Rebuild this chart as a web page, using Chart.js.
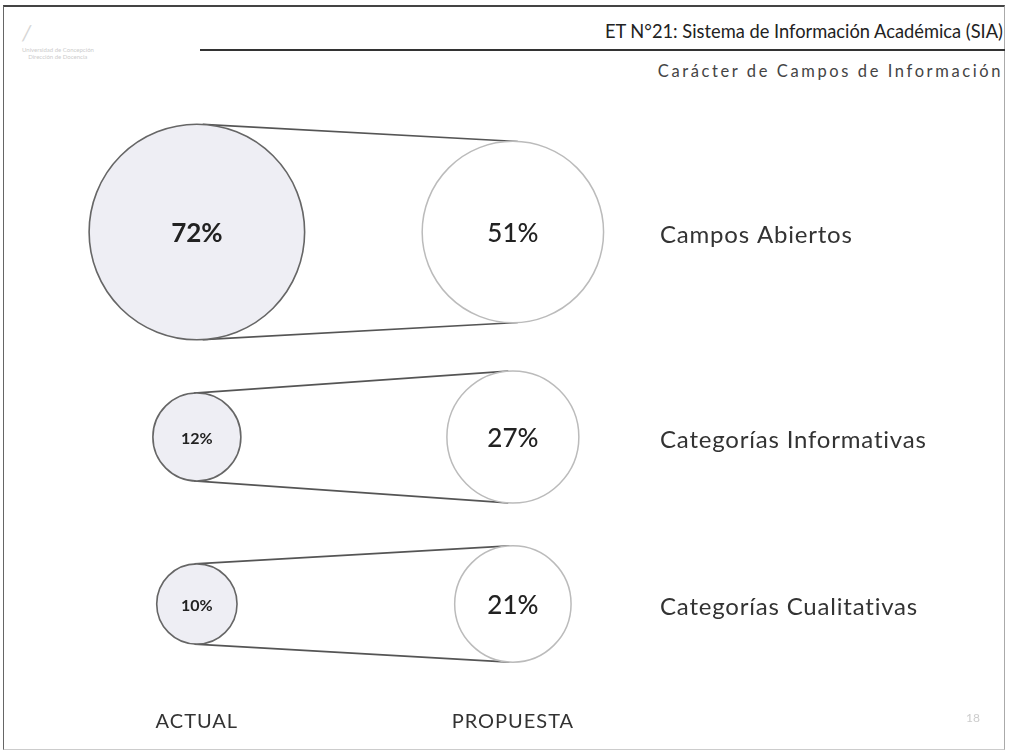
<!DOCTYPE html>
<html>
<head>
<meta charset="utf-8">
<script src="https://cdn.jsdelivr.net/npm/chart.js@4"></script>
<style>
body { margin: 0; background: #fff; font-family: Lato, "Open Sans", sans-serif; }
#page { position: relative; width: 1009px; height: 755px; overflow: hidden; }
#frame { position: absolute; left: 3px; top: 5px; width: 1000px; height: 742px;
  border: 1px solid #666; border-top: 2px solid #444; border-bottom-color: #ccc; border-right-color: #aaa; }
#title { position: absolute; right: 6px; top: 20px; font-size: 18.3px; color: #222; }
#rule { position: absolute; left: 200px; right: 4px; top: 49px; height: 2px; background: #333; }
#subtitle { position: absolute; right: 6px; top: 61px; font-size: 16.5px; color: #444; letter-spacing: 2.6px; }
#logo { position: absolute; left: 22px; top: 18px; color: #ccc; font-size: 6px; line-height: 7px; }
#pagenum { position: absolute; left: 966px; top: 710px; color: #ccc; font-size: 12px; }
canvas { position: absolute; left: 0; }
</style>
</head>
<body>
<div id="page">
  <div id="frame"></div>
  <div id="logo"><div style="font-size:22px;line-height:28px;color:#d6d6d6;font-style:italic">/</div>Universidad de Concepción<br>&nbsp;&nbsp;&nbsp;&nbsp;Dirección de Docencia</div>
  <div id="title">ET N°21: Sistema de Información Académica (SIA)</div>
  <div id="rule"></div>
  <div id="subtitle">Carácter de Campos de Información</div>
  <canvas id="row0" width="1009" height="230" style="top:117px"></canvas>
  <canvas id="row1" width="1009" height="160" style="top:357px"></canvas>
  <canvas id="row2" width="1009" height="206" style="top:524px"></canvas>
  <div id="pagenum">18</div>
</div>
<script>
// Data
var categories = ['Campos Abiertos', 'Categorías Informativas', 'Categorías Cualitativas'];
var columns = ['ACTUAL', 'PROPUESTA'];
var actual = [72, 12, 10];
var propuesta = [51, 27, 21];

// bubble radius from value (area ~ value)
function radius(v) {
  return 12.7 * Math.sqrt(v);
}

// tangent lines between the two circles + texts
var beltPlugin = {
  id: 'belt',
  beforeDatasetsDraw: function(chart) {
    var a = chart.getDatasetMeta(0).data[0];
    var b = chart.getDatasetMeta(1).data[0];
    var r1 = chart.data.datasets[0].data[0].r;
    var r2 = chart.data.datasets[1].data[0].r;
    var d = b.x - a.x;
    var nx = (r1 - r2) / d;
    var ny = Math.sqrt(1 - nx * nx);
    var ctx = chart.ctx;
    ctx.save();
    ctx.strokeStyle = '#555';
    ctx.lineWidth = 1.6;
    [-1, 1].forEach(function(s) {
      ctx.beginPath();
      ctx.moveTo(a.x + r1 * nx, a.y + s * r1 * ny);
      ctx.lineTo(b.x + r2 * nx, b.y + s * r2 * ny);
      ctx.stroke();
    });
    ctx.restore();
  },
  afterDatasetsDraw: function(chart) {
    var ctx = chart.ctx;
    var row = chart.options.rowIndex;
    ctx.save();
    ctx.textAlign = 'center';
    ctx.textBaseline = 'middle';
    ctx.fillStyle = '#222';
    chart.data.datasets.forEach(function(ds, i) {
      var el = chart.getDatasetMeta(i).data[0];
      var size = ds.data[0].r < 50 ? 16 : 26;
      var weight = i == 0 ? '700 ' : '500 ';
      ctx.font = weight + size + 'px Lato';
      ctx.fillText(ds.data[0].v + '%', el.x, el.y + 2);
    });
    // category label on the right
    var y = chart.getDatasetMeta(0).data[0].y;
    ctx.textAlign = 'left';
    ctx.fillStyle = '#333';
    ctx.font = '24px Lato';
    ctx.letterSpacing = '0.8px';
    ctx.fillText(categories[row], 660, y + 3);
    // column labels under the last row
    if (row == categories.length - 1) {
      ctx.textAlign = 'center';
      ctx.font = '20px Lato';
      ctx.letterSpacing = '1px';
      columns.forEach(function(c, i) {
        ctx.fillText(c, chart.scales.x.getPixelForValue(i), chart.chartArea.bottom + 38);
      });
    }
    ctx.restore();
  }
};

for (var i = 0; i < categories.length; i++) {
  var last = i == categories.length - 1;
  new Chart(document.getElementById('row' + i), {
    type: 'bubble',
    data: {
      datasets: [
        {
          label: columns[0],
          data: [{ x: 0, y: 0, r: radius(actual[i]), v: actual[i] }],
          backgroundColor: '#eeeef4',
          borderColor: '#666',
          borderWidth: 1.6,
          clip: false
        },
        {
          label: columns[1],
          data: [{ x: 1, y: 0, r: radius(propuesta[i]), v: propuesta[i] }],
          backgroundColor: '#fff',
          borderColor: '#bbb',
          borderWidth: 1.5,
          clip: false
        }
      ]
    },
    options: {
      rowIndex: i,
      responsive: false,
      animation: false,
      devicePixelRatio: 1,
      events: [],
      layout: { autoPadding: false, padding: { left: 0, right: 0, top: 0, bottom: last ? 46 : 0 } },
      scales: {
        x: { type: 'linear', min: -0.623, max: 2.57, display: false },
        y: { type: 'linear', min: -1, max: 1, display: false }
      },
      plugins: { legend: { display: false }, tooltip: { enabled: false } }
    },
    plugins: [beltPlugin]
  });
}
</script>
</body>
</html>
